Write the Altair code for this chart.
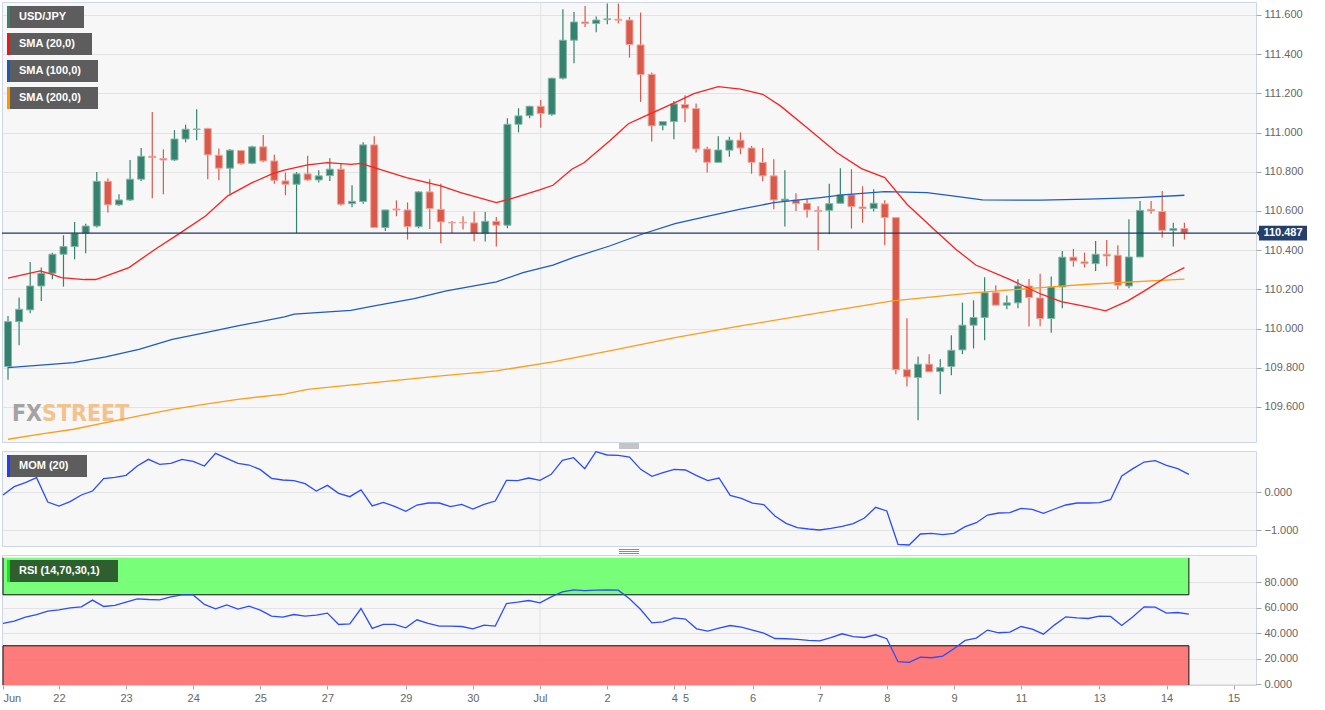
import json
import numpy as np
import pandas as pd
import altair as alt

# ---------------- data ----------------
opens = [109.806, 110.035, 110.095, 110.217, 110.282, 110.379, 110.418, 110.486, 110.523, 110.751,
         110.631, 110.656, 110.762, 110.879, 110.867, 110.860, 110.967, 111.015, 111.020, 110.884,
         110.818, 110.908, 110.843, 110.927, 110.855, 110.753, 110.736, 110.789, 110.758, 110.780,
         110.813, 110.637, 110.648, 110.937, 110.515, 110.610, 110.605, 110.520, 110.697, 110.608,
         110.542, 110.542, 110.539, 110.486, 110.547, 110.527, 111.042, 111.086, 111.134, 111.093,
         111.277, 111.471, 111.564, 111.556, 111.576, 111.578, 111.574, 111.447, 111.297, 111.037,
         111.056, 111.143, 111.122, 110.916, 110.848, 110.910, 110.961, 110.921, 110.847, 110.779,
         110.651, 110.656, 110.639, 110.603, 110.603, 110.639, 110.682, 110.620, 110.612, 110.636,
         110.566, 109.790, 109.750, 109.818, 109.780, 109.806, 109.891, 110.017, 110.056, 110.183,
         110.119, 110.131, 110.217, 110.156, 110.051, 110.212, 110.364, 110.340, 110.331, 110.379,
         110.374, 110.217, 110.365, 110.608, 110.597, 110.501, 110.510]
highs = [110.064, 110.158, 110.340, 110.311, 110.387, 110.476, 110.544, 110.535, 110.799, 110.765,
         110.685, 110.860, 110.921, 111.105, 110.915, 111.012, 111.040, 111.119, 111.025, 110.918,
         110.916, 110.910, 110.932, 110.988, 110.886, 110.796, 110.799, 110.881, 110.807, 110.869,
         110.841, 110.731, 110.950, 110.981, 110.605, 110.654, 110.643, 110.700, 110.762, 110.739,
         110.549, 110.573, 110.597, 110.595, 110.569, 111.073, 111.124, 111.137, 111.166, 111.280,
         111.629, 111.615, 111.646, 111.592, 111.658, 111.658, 111.590, 111.612, 111.306, 111.056,
         111.161, 111.190, 111.148, 110.927, 110.981, 110.978, 111.001, 110.932, 110.921, 110.864,
         110.807, 110.690, 110.661, 110.624, 110.739, 110.818, 110.813, 110.726, 110.711, 110.654,
         110.566, 110.052, 109.857, 109.869, 109.843, 109.966, 110.132, 110.144, 110.262, 110.221,
         110.168, 110.251, 110.253, 110.280, 110.265, 110.396, 110.406, 110.387, 110.447, 110.452,
         110.425, 110.557, 110.651, 110.651, 110.702, 110.540, 110.540]
lows = [109.738, 109.915, 110.078, 110.141, 110.251, 110.214, 110.353, 110.384, 110.515, 110.592,
        110.627, 110.651, 110.753, 110.665, 110.685, 110.855, 110.950, 110.961, 110.762, 110.756,
        110.688, 110.835, 110.838, 110.848, 110.739, 110.680, 110.486, 110.753, 110.745, 110.753,
        110.627, 110.619, 110.637, 110.515, 110.498, 110.573, 110.454, 110.512, 110.508, 110.435,
        110.486, 110.505, 110.445, 110.444, 110.418, 110.512, 111.001, 111.073, 111.025, 111.086,
        111.270, 111.353, 111.539, 111.512, 111.552, 111.557, 111.382, 111.156, 110.954, 111.012,
        110.966, 111.052, 110.898, 110.796, 110.848, 110.877, 110.889, 110.790, 110.751, 110.609,
        110.520, 110.600, 110.566, 110.399, 110.481, 110.639, 110.510, 110.540, 110.597, 110.425,
        109.767, 109.704, 109.532, 109.779, 109.665, 109.762, 109.869, 109.898, 109.940, 110.119,
        110.098, 110.103, 110.010, 110.012, 109.979, 110.103, 110.316, 110.311, 110.294, 110.318,
        110.200, 110.205, 110.365, 110.586, 110.464, 110.418, 110.454]
closes = [110.035, 110.098, 110.217, 110.282, 110.379, 110.418, 110.486, 110.523, 110.751, 110.631,
          110.656, 110.762, 110.879, 110.872, 110.860, 110.967, 111.017, 111.018, 110.886, 110.818,
          110.910, 110.841, 110.927, 110.855, 110.756, 110.736, 110.789, 110.758, 110.779, 110.813,
          110.634, 110.649, 110.937, 110.515, 110.605, 110.605, 110.520, 110.697, 110.612, 110.544,
          110.539, 110.539, 110.486, 110.547, 110.527, 111.042, 111.085, 111.134, 111.097, 111.277,
          111.471, 111.564, 111.556, 111.574, 111.580, 111.573, 111.449, 111.296, 111.034, 111.056,
          111.146, 111.124, 110.916, 110.848, 110.911, 110.961, 110.921, 110.848, 110.779, 110.656,
          110.660, 110.637, 110.605, 110.597, 110.637, 110.682, 110.622, 110.612, 110.639, 110.566,
          109.790, 109.753, 109.818, 109.779, 109.801, 109.889, 110.017, 110.056, 110.183, 110.119,
          110.131, 110.217, 110.158, 110.051, 110.212, 110.364, 110.345, 110.331, 110.379, 110.370,
          110.221, 110.365, 110.603, 110.600, 110.501, 110.510, 110.487]

sma20_i = [0, 2.9, 3.9, 4.8, 6.9, 7.9, 8.8, 10.9, 13.3, 15.4, 17.8, 19.8, 22.0, 23.8, 24.9, 27.0,
           28.8, 30.9, 31.8, 33.0, 35.9, 39.0, 40.8, 44.0, 45.5, 47.9, 49.1, 50.8, 51.9, 54.2, 55.9,
           57.1, 60.1, 61.8, 64.0, 66.0, 68.0, 69.6, 72.0, 74.7, 76.9, 79.0, 81.0, 83.6, 85.4, 87.2,
           90.2, 93.1, 94.9, 97.3, 98.9, 100.9, 102.4, 104.5, 106]
sma20_v = [110.257, 110.294, 110.277, 110.260, 110.250, 110.250, 110.267, 110.311, 110.406, 110.483,
           110.574, 110.677, 110.744, 110.789, 110.808, 110.835, 110.846, 110.838, 110.843, 110.821,
           110.770, 110.728, 110.693, 110.642, 110.665, 110.707, 110.731, 110.813, 110.846, 110.957,
           111.045, 111.076, 111.153, 111.198, 111.234, 111.221, 111.195, 111.136, 111.025, 110.897,
           110.816, 110.770, 110.634, 110.498, 110.405, 110.324, 110.252, 110.175, 110.137, 110.110,
           110.090, 110.141, 110.192, 110.268, 110.311]
sma100_i = [0, 5.9, 8.8, 11.8, 14.8, 17.8, 20.7, 24.9, 25.8, 30.9, 33.0, 36.6, 39.5, 44.0, 46.4,
            49.1, 51.1, 54.2, 57.1, 60.1, 63.1, 66.0, 69.0, 73.2, 75.2, 79.0, 82.8, 85.1, 87.8,
            93.1, 97.3, 101.8, 106]
sma100_v = [109.800, 109.826, 109.855, 109.894, 109.945, 109.979, 110.013, 110.059, 110.073, 110.093,
            110.115, 110.153, 110.192, 110.238, 110.285, 110.323, 110.365, 110.421, 110.481, 110.535,
            110.574, 110.609, 110.642, 110.668, 110.682, 110.698, 110.693, 110.677, 110.656, 110.655,
            110.660, 110.668, 110.680]
sma200_i = [0, 2.9, 5.9, 8.8, 11.8, 14.8, 17.8, 20.7, 24.9, 27.0, 33.0, 39.0, 44.0, 49.1, 54.2,
            60.1, 66.0, 73.2, 79.7, 87.2, 93.1, 97.3, 106]
sma200_v = [109.435, 109.461, 109.486, 109.520, 109.554, 109.588, 109.614, 109.639, 109.665, 109.690,
            109.724, 109.758, 109.784, 109.830, 109.886, 109.954, 110.013, 110.081, 110.141, 110.183,
            110.209, 110.226, 110.252]

mom = [-0.071, 0.148, 0.253, 0.385, -0.255, -0.361, -0.246, -0.071, 0.034, 0.359,
       0.394, 0.446, 0.692, 0.868, 0.736, 0.762, 0.868, 0.815, 0.692, 1.025,
       0.894, 0.762, 0.718, 0.596, 0.367, 0.324, 0.306, 0.227, 0.034, 0.183,
       -0.027, -0.115, 0.061, -0.360, -0.264, -0.369, -0.501, -0.334, -0.282, -0.282,
       -0.378, -0.317, -0.439, -0.317, -0.229, 0.315, 0.306, 0.376, 0.315, 0.473,
       0.841, 0.911, 0.622, 1.069, 0.982, 0.973, 0.929, 0.604, 0.420, 0.517,
       0.604, 0.587, 0.438, 0.306, 0.376, -0.080, -0.159, -0.282, -0.325, -0.624,
       -0.817, -0.931, -0.966, -0.992, -0.948, -0.896, -0.826, -0.676, -0.396, -0.492,
       -1.369, -1.387, -1.097, -1.080, -1.115, -1.080, -0.904, -0.799, -0.597, -0.545,
       -0.536, -0.422, -0.448, -0.553, -0.439, -0.334, -0.282, -0.282, -0.273, -0.194,
       0.429, 0.622, 0.797, 0.832, 0.710, 0.622, 0.473]
rsi = [47.5, 49.3, 52.4, 54.5, 57.1, 58.2, 59.8, 60.5, 65.8, 60.8,
       61.6, 64.2, 66.8, 66.3, 66.0, 68.4, 69.9, 69.9, 62.4, 59.0,
       62.1, 58.7, 61.1, 57.9, 53.2, 52.4, 54.5, 53.2, 54.0, 55.6,
       46.7, 47.2, 59.2, 43.6, 46.7, 46.7, 44.1, 50.4, 47.5, 45.4,
       45.4, 45.1, 43.3, 46.2, 45.4, 63.1, 64.2, 65.5, 63.7, 68.4,
       72.3, 73.8, 73.3, 73.6, 73.8, 73.6, 66.8, 58.4, 48.0, 48.8,
       51.9, 50.9, 43.3, 41.5, 43.8, 45.9, 44.6, 42.3, 39.9, 35.7,
       35.5, 35.0, 34.2, 33.9, 36.3, 39.4, 37.1, 36.5, 38.6, 35.5,
       17.5, 17.0, 21.1, 20.6, 21.9, 27.7, 34.2, 36.0, 42.3, 40.2,
       40.7, 45.1, 43.1, 39.1, 46.4, 52.7, 51.9, 51.4, 53.2, 53.0,
       45.9, 52.7, 60.5, 60.3, 55.6, 56.1, 54.8]

tick_idx = [0, 5, 11, 17, 23, 29, 36, 42, 48, 54, 60, 61, 67, 73, 79, 85, 91, 98, 104, 110]
tick_lbl = ["Jun", "22", "23", "24", "25", "27", "29", "30", "Jul", "2", "4", "5", "6", "7",
            "8", "9", "11", "13", "14", "15"]
main_ticks = [109.6, 109.8, 110.0, 110.2, 110.4, 110.6, 110.8, 111.0, 111.2, 111.4, 111.6]
mom_ticks = [-1.0, 0.0]
rsi_ticks = [0, 20, 40, 60, 80]
rsi_over = [70, 99]
rsi_under = [-0.8, 30]
last_price = [110.487]
month_start = [48]
legend_names = ["USD/JPY", "SMA (20,0)", "SMA (100,0)", "SMA (200,0)"]

# ---------------- styling / layout ----------------
GREEN, RED = "#35826f", "#d9594a"
GREEN_EDGE, RED_EDGE = "#86b6a9", "#eea79d"
C20, C100, C200 = "#ff1f1f", "#1d5cc2", "#ff9d1a"
IND = "#2b4cff"
W = 1254
H_MAIN, H_MOM, H_RSI = 440, 95, 130
FONT = "Liberation Sans"

n = len(opens)
candles = pd.DataFrame({"i": list(range(n)), "o": opens, "h": highs, "l": lows, "c": closes})
candles["d"] = np.where(candles["c"] >= candles["o"], "up", "down")

xs = alt.Scale(domain=[-0.09, 112.0], nice=False, zero=False)
one = pd.DataFrame({"k": [0]})


def right_axis(vals):
    return alt.Axis(orient="right", values=vals, format=".3f", grid=True, tickSize=5,
                    labelPadding=3, title=None, domain=False)


def X(field):
    return alt.X(field, scale=xs, axis=None)


# ---------- main price panel ----------
ys_main = alt.Scale(domain=[109.421, 111.666], nice=False, zero=False)
ax_main = right_axis(main_ticks)


def YM(field):
    return alt.Y(field, scale=ys_main, axis=ax_main)


fill_dir = alt.Color("d:N", scale=alt.Scale(domain=["up", "down"], range=[GREEN, RED]), legend=None)
edge_dir = alt.Stroke("d:N", scale=alt.Scale(domain=["up", "down"], range=[GREEN_EDGE, RED_EDGE]), legend=None)

jul_main = alt.Chart(pd.DataFrame({"i": month_start})).mark_rule(color="#e2e2e2", strokeWidth=1).encode(x=X("i:Q"))

WM_FONT = "Liberation Sans Narrow, DejaVu Sans Condensed, Liberation Sans"
wm_fx = alt.Chart(one).mark_text(text="FX", align="right", baseline="alphabetic", fontSize=23,
                                 fontWeight="bold", font=WM_FONT, color="#a3a3a3").encode(
    x=alt.value(40), y=alt.value(419))
wm_st = alt.Chart(one).mark_text(text="STREET", align="left", baseline="alphabetic", fontSize=23,
                                 fontWeight="bold", font=WM_FONT, color="#f2c28f").encode(
    x=alt.value(40), y=alt.value(419))

base = alt.Chart(candles)
wicks = base.mark_rule(strokeWidth=1.2, clip=True).encode(
    x=X("i:Q"), y=YM("l:Q"), y2="h:Q", color=fill_dir)
bodies = base.mark_bar(size=7, strokeWidth=1, clip=True).encode(
    x=X("i:Q"), y=YM("o:Q"), y2="c:Q", color=fill_dir, stroke=edge_dir)


def sma_layer(ix, vals, col):
    df = pd.DataFrame({"i": ix, "v": vals})
    return alt.Chart(df).mark_line(color=col, strokeWidth=1.3, clip=True).encode(x=X("i:Q"), y=YM("v:Q"))


price_df = pd.DataFrame({"p": last_price})
price_line = alt.Chart(price_df).mark_rule(color="#1f3864", strokeWidth=1.2).encode(y=YM("p:Q"))
price_tag = alt.Chart(price_df).mark_point(
    shape="M-1.1,0L-1,-0.12L-1,-0.31L1,-0.31L1,0.31L-1,0.31L-1,0.12Z", size=2304, filled=True,
    opacity=1, color="#243f6c", strokeWidth=0).encode(x=alt.value(1281), y=YM("p:Q"))
price_txt = alt.Chart(price_df).mark_text(color="white", fontWeight="bold", fontSize=11, font=FONT,
                                          align="center", baseline="middle").encode(
    x=alt.value(1281), y=YM("p:Q"), text=alt.Text("p:Q", format=".3f"))

legend_layers = []
box_right = [82, 90, 96, 96]
stripe_cols = [GREEN, "#ff1010", "#1d55c0", "#ff9800"]
for k, name in enumerate(legend_names):
    y0 = 4 + 27 * k
    d = alt.Chart(pd.DataFrame({"t": [name]}))
    legend_layers += [
        d.mark_rect(color="#5d5d5d").encode(x=alt.value(5), x2=alt.value(box_right[k]),
                                            y=alt.value(y0), y2=alt.value(y0 + 22)),
        d.mark_rect(color=stripe_cols[k]).encode(x=alt.value(5), x2=alt.value(8),
                                                 y=alt.value(y0), y2=alt.value(y0 + 22)),
        d.mark_text(color="white", fontWeight="bold", fontSize=11, font=FONT, align="left",
                    baseline="middle").encode(x=alt.value(17), y=alt.value(y0 + 11), text="t:N"),
    ]

main = alt.layer(
    jul_main, wm_fx, wm_st, wicks, bodies,
    sma_layer(sma200_i, sma200_v, C200), sma_layer(sma100_i, sma100_v, C100), sma_layer(sma20_i, sma20_v, C20),
    price_line, price_tag, price_txt, *legend_layers
).properties(width=W, height=H_MAIN)

# ---------- momentum panel ----------
ys_mom = alt.Scale(domain=[-1.413, 1.087], nice=False, zero=False)
mom_df = pd.DataFrame({"i": list(range(n)), "v": mom})
jul_mom = alt.Chart(pd.DataFrame({"i": month_start})).mark_rule(color="#e2e2e2").encode(x=X("i:Q"))
mom_line = alt.Chart(mom_df).mark_line(color=IND, strokeWidth=1.3, clip=True).encode(
    x=X("i:Q"), y=alt.Y("v:Q", scale=ys_mom, axis=right_axis(mom_ticks)))
mom_lab = alt.Chart(pd.DataFrame({"t": ["MOM (20)"]}))
handles = []
for yy in (-7, -5, -3, 98.5, 100.5, 102.5):
    handles.append(alt.Chart(one).mark_rule(color="#8a8a8a", strokeWidth=1).encode(
        x=alt.value(617), x2=alt.value(637), y=alt.value(yy)))
mom_panel = alt.layer(
    jul_mom, mom_line,
    mom_lab.mark_rect(color="#5d5d5d").encode(x=alt.value(5), x2=alt.value(85), y=alt.value(4), y2=alt.value(26)),
    mom_lab.mark_rect(color="#1f3cff").encode(x=alt.value(5), x2=alt.value(8), y=alt.value(4), y2=alt.value(26)),
    mom_lab.mark_text(color="white", fontWeight="bold", fontSize=11, font=FONT, align="left",
                      baseline="middle").encode(x=alt.value(17), y=alt.value(15), text="t:N"),
    *handles
).properties(width=W, height=H_MOM)

# ---------- RSI panel ----------
ys_rsi = alt.Scale(domain=[-0.78, 101.2], nice=False, zero=False)
ax_rsi = right_axis(rsi_ticks)
label_expr = f"{json.dumps(tick_lbl)}[indexof({json.dumps(tick_idx)}, datum.value)]"
ax_bottom = alt.Axis(values=tick_idx, labelExpr=label_expr, grid=False, domain=False, tickSize=4,
                     labelPadding=3, labelFlush=6, labelOverlap=False, title=None)


def XB(field):
    return alt.X(field, scale=xs, axis=ax_bottom)


def YR(field):
    return alt.Y(field, scale=ys_rsi, axis=ax_rsi)


first_i, last_i = 0, n - 1
over_df = pd.DataFrame({"x0": [first_i], "x1": [last_i], "lo": [rsi_over[0]], "hi": [rsi_over[1]]})
under_df = pd.DataFrame({"x0": [first_i], "x1": [last_i], "lo": [rsi_under[0]], "hi": [rsi_under[1]]})
over_rect = alt.Chart(over_df).mark_rect(color="#66ff66", opacity=0.88).encode(
    x=XB("x0:Q"), x2="x1:Q", y=YR("lo:Q"), y2="hi:Q")
under_rect = alt.Chart(under_df).mark_rect(color="#ff6a6a", opacity=0.88).encode(
    x=XB("x0:Q"), x2="x1:Q", y=YR("lo:Q"), y2="hi:Q")
edges = pd.DataFrame({
    "a": [first_i, first_i, first_i, last_i, first_i, last_i],
    "b": [last_i, last_i, first_i, last_i, first_i, last_i],
    "y1": [rsi_over[0], rsi_under[1], rsi_over[0], rsi_over[0], rsi_under[0], rsi_under[0]],
    "y2": [rsi_over[0], rsi_under[1], rsi_over[1], rsi_over[1], rsi_under[1], rsi_under[1]],
})
band_edges = alt.Chart(edges).mark_rule(color="#111111", strokeWidth=1).encode(
    x=XB("a:Q"), x2="b:Q", y=YR("y1:Q"), y2="y2:Q")
rsi_df = pd.DataFrame({"i": list(range(n)), "v": rsi})
jul_rsi = alt.Chart(pd.DataFrame({"i": month_start})).mark_rule(color="#e2e2e2").encode(x=XB("i:Q"))
rsi_line = alt.Chart(rsi_df).mark_line(color=IND, strokeWidth=1.3, clip=True).encode(
    x=XB("i:Q"), y=YR("v:Q"))
rsi_lab = alt.Chart(pd.DataFrame({"t": ["RSI (14,70,30,1)"]}))
rsi_panel = alt.layer(
    jul_rsi, over_rect, under_rect, band_edges, rsi_line,
    rsi_lab.mark_rect(color="#2f5f30").encode(x=alt.value(5), x2=alt.value(116), y=alt.value(5), y2=alt.value(27)),
    rsi_lab.mark_rect(color="#19e619").encode(x=alt.value(5), x2=alt.value(8), y=alt.value(5), y2=alt.value(27)),
    rsi_lab.mark_text(color="white", fontWeight="bold", fontSize=11, font=FONT, align="left",
                      baseline="middle").encode(x=alt.value(17), y=alt.value(16), text="t:N"),
).properties(width=W, height=H_RSI)

chart = alt.vconcat(main, mom_panel, rsi_panel, spacing=9, bounds="flush").properties(
    padding={"left": 0, "top": 1, "right": 0, "bottom": 0}, background="white"
).configure_view(fill="#f7f7f7", stroke="#cdd6e8", strokeWidth=1).configure_axis(
    labelFont=FONT, labelFontSize=11, labelColor="#666666", tickColor="#a8a8a8",
    gridColor="#e3e3e3", gridWidth=1)

chart.save("out.html", embed_options={"renderer": "svg", "actions": False})
